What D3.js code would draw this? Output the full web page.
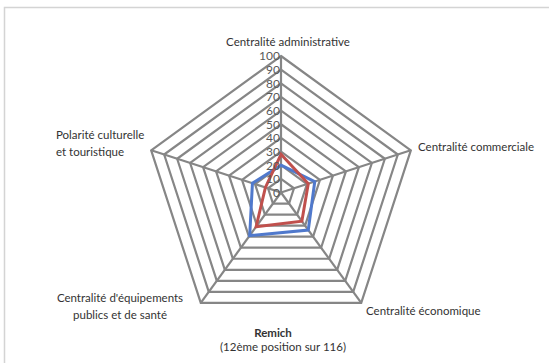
<!DOCTYPE html>
<html lang="fr">
<head>
<meta charset="UTF-8"/>
<title>Remich</title>
<script src="https://d3js.org/d3.v7.min.js"></script>
<style>
    body { margin: 0; background: #fff; }
    text { font-family: Lato, "Open Sans", sans-serif; fill: #333; }
</style>
</head>
<body>
<script>
    var w = 549;
    var h = 363;

    // axes of the radar, clockwise from the top
    var axes = ["Centralité administrative", "Centralité commerciale", "Centralité économique",
                "Centralité d'équipements publics et de santé", "Polarité culturelle et touristique"];
    var seriesBlue = [20, 26, 34, 39, 22];
    var seriesRed = [28, 21, 26, 31, 12];
    var ticks = [0, 10, 20, 30, 40, 50, 60, 70, 80, 90, 100];

    var cx = 281, cy = 192.5, R = 136.5;

    var r = d3.scaleLinear().domain([0, 100]).range([0, R]);
    var angle = d3.scaleLinear().domain([0, axes.length]).range([0, 2 * Math.PI]);

    function pt(i, v) {
        var a = angle(i);
        return [cx + r(v) * Math.sin(a), cy - r(v) * Math.cos(a)];
    }

    var svg = d3.select("body").append("svg")
        .attr("width", w)
        .attr("height", h);

    // chart frame (only top and left edges fall inside the picture)
    svg.append("rect")
        .attr("x", 4.5).attr("y", 7.5)
        .attr("width", 600).attr("height", 400)
        .attr("fill", "none")
        .attr("stroke", "#d4d4d4")
        .attr("stroke-width", 1.5);

    var line = d3.line();

    // grid rings
    svg.selectAll(".ring")
        .data(ticks.slice(1))
        .enter().append("path")
        .attr("class", "ring")
        .attr("d", function(t) { return line(axes.map(function(a, i) { return pt(i, t); })) + "Z"; })
        .attr("fill", "none")
        .attr("stroke", "#868686")
        .attr("stroke-width", 2.2);

    // spokes
    svg.selectAll(".spoke")
        .data(axes)
        .enter().append("line")
        .attr("class", "spoke")
        .attr("x1", cx).attr("y1", cy)
        .attr("x2", function(d, i) { return pt(i, 100)[0]; })
        .attr("y2", function(d, i) { return pt(i, 100)[1]; })
        .attr("stroke", "#868686")
        .attr("stroke-width", 2.2);

    // series
    [[seriesBlue, "#5079cc"], [seriesRed, "#c0504d"]].forEach(function(s) {
        svg.append("path")
            .attr("d", line(s[0].map(function(v, i) { return pt(i, v); })) + "Z")
            .attr("fill", "none")
            .attr("stroke", s[1])
            .attr("stroke-width", 3)
            .attr("stroke-linejoin", "miter");
    });

    // tick labels along the top axis
    svg.selectAll(".tick")
        .data(ticks)
        .enter().append("text")
        .attr("class", "tick")
        .attr("x", cx - 1)
        .attr("y", function(t) { return pt(0, t)[1]; })
        .attr("dy", "0.36em")
        .attr("text-anchor", "end")
        .attr("font-size", "12px")
        .style("fill", "#595959")
        .text(function(t) { return t; });

    // axis labels
    var labels = [
        { lines: ["Centralité administrative"], x: 288, y: 42, anchor: "middle" },
        { lines: ["Centralité commerciale"], x: 418, y: 147, anchor: "start" },
        { lines: ["Centralité économique"], x: 366, y: 311, anchor: "start" },
        { lines: ["Centralité d'équipements", "publics et de santé"], x: 120, y: 298, anchor: "middle" },
        { lines: ["Polarité culturelle", "et touristique"], x: 56, y: 135, anchor: "start" }
    ];

    labels.forEach(function(l) {
        var t = svg.append("text")
            .attr("x", l.x)
            .attr("y", l.y)
            .attr("dy", "0.35em")
            .attr("text-anchor", l.anchor)
            .attr("font-size", "11.5px");
        l.lines.forEach(function(s, k) {
            t.append("tspan")
                .attr("x", l.x)
                .attr("dy", k === 0 ? "0.35em" : "1.45em")
                .text(s);
        });
    });

    // title under the chart
    svg.append("text")
        .attr("x", 273).attr("y", 333)
        .attr("dy", "0.35em")
        .attr("text-anchor", "middle")
        .attr("font-size", "11.5px")
        .attr("font-weight", "bold")
        .text("Remich");

    svg.append("text")
        .attr("x", 283).attr("y", 347)
        .attr("dy", "0.35em")
        .attr("text-anchor", "middle")
        .attr("font-size", "11.5px")
        .text("(12ème position sur 116)");
</script>
</body>
</html>
